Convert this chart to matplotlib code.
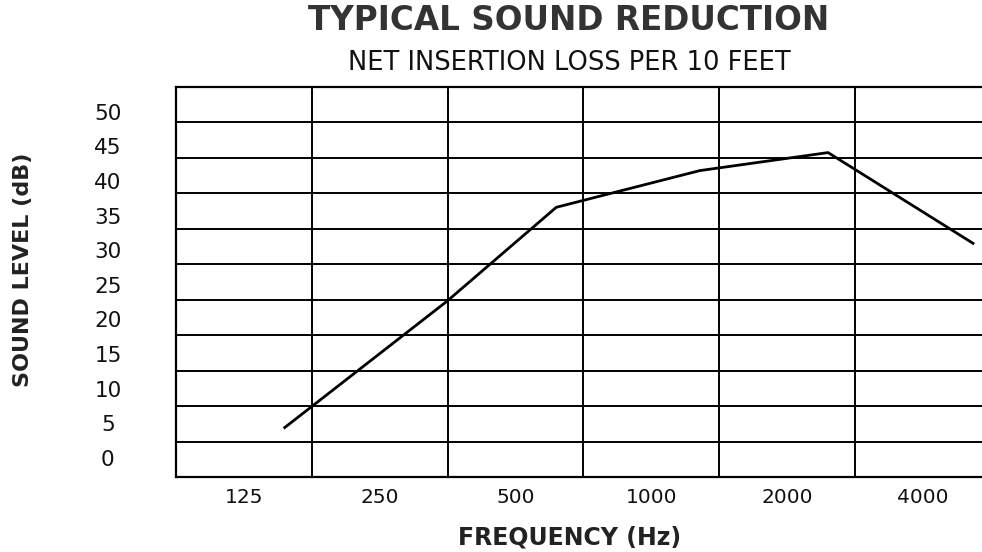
import numpy as np
from matplotlib import pyplot as plt

# octave band labels
bands = [125, 250, 500, 1000, 2000, 4000]
band_labels = ["125", "250", "500", "1000", "2000", "4000"]

# net insertion loss curve (Hz, dB)
freq = [154, 352, 616, 1282, 2467, 5170]
loss = [4.4, 22.6, 36.2, 41.5, 44.1, 31.0]

y_labels = [0, 5, 10, 15, 20, 25, 30, 35, 40, 45, 50]

plt.rcParams["font.family"] = "DejaVu Sans"

fig = plt.figure(figsize=(9.82, 5.52), dpi=100)
ax = fig.add_axes([0.1792, 0.1359, 0.8296, 0.7065])

# x axis in octaves above 125 Hz
x = np.log2(np.array(freq) / bands[0])
xb = np.log2(np.array(bands) / bands[0])

y_lo, y_hi = -2.74, 53.57
ax.set_xlim(-0.5, 5.5)
ax.set_ylim(y_lo, y_hi)

# grid of 6 columns by 11 rows
for v in np.arange(0.5, 5.5, 1.0):
    ax.axvline(v, color="black", lw=1.4, zorder=1)
for h in np.linspace(y_lo, y_hi, 12)[1:-1]:
    ax.axhline(h, color="black", lw=1.4, zorder=1)

ax.plot(x, loss, color="black", lw=2.0, zorder=3)

for s in ax.spines.values():
    s.set_linewidth(1.6)

ax.set_xticks(xb)
ax.set_xticklabels(band_labels, fontsize=14.5, color="#111111")
ax.set_yticks(y_labels)
ax.set_yticklabels([str(v) for v in y_labels], fontsize=15.5, ha="center", color="#111111")
ax.tick_params(axis="both", length=0)
ax.tick_params(axis="x", pad=8)
ax.tick_params(axis="y", pad=49)

ax.set_xlabel("FREQUENCY (Hz)", fontsize=17, fontweight="bold", color="#222222")
ax.xaxis.set_label_coords(0.4836, -0.125)
ax.set_ylabel("SOUND LEVEL (dB)", fontsize=16, fontweight="bold", color="#222222")
ax.yaxis.set_label_coords(-0.175, 0.531)

fig.text(0.5794, 0.962, "TYPICAL SOUND REDUCTION", fontsize=23.5, fontweight="bold",
         color="#333333", ha="center", va="center")
fig.text(0.5794, 0.886, "NET INSERTION LOSS PER 10 FEET", fontsize=18.5,
         color="#111111", ha="center", va="center")

fig.savefig("out.png", dpi=100)
